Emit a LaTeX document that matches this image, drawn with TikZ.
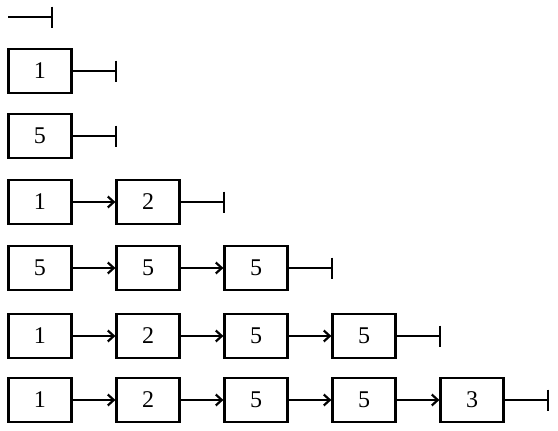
\documentclass[tikz,border=0pt]{standalone}
\usepackage{fontspec}
\setmainfont{Liberation Serif}
\usetikzlibrary{arrows.meta}
\tikzset{
  cell/.style={draw, line width=2.2pt, minimum width=63pt, minimum height=44pt, inner sep=0pt},
  link/.style={line width=2.2pt, -{Straight Barb[length=6pt,width=11pt,line width=2.2pt]}},
  nil/.style={line width=2.2pt, -{Bar[width=21pt,line width=2.2pt]}}}
\newcommand{\cellfont}{\fontsize{24}{24}\selectfont}
\begin{document}
\begin{tikzpicture}[x=1pt,y=-1pt]
\useasboundingbox (0,0) rectangle (558,431);
% row 1: empty list
\coordinate (r1s) at (8,17);
\coordinate (r1e) at (53,17);
\draw[nil] (r1s) -- (r1e);
% rows 2-7
\foreach \r/\y/\vals in {2/71/{1}, 3/136/{5}, 4/202/{1,2}, 5/268/{5,5,5}, 6/336/{1,2,5,5}, 7/400/{1,2,5,5,3}}{
  \foreach \v [count=\i] in \vals {
    \node[cell] (b\r-\i) at ({40+108*(\i-1)},\y) {\cellfont\v};
    \ifnum\i>1
      \pgfmathtruncatemacro{\p}{\i-1}
      \draw[link] (b\r-\p.east) -- (b\r-\i.west);
    \fi
    \xdef\last{\i}
  }
  \coordinate (e\r) at ({72+108*(\last-1)+45},\y);
  \draw[nil] (b\r-\last.east) -- (e\r);
}
\end{tikzpicture}
\end{document}
